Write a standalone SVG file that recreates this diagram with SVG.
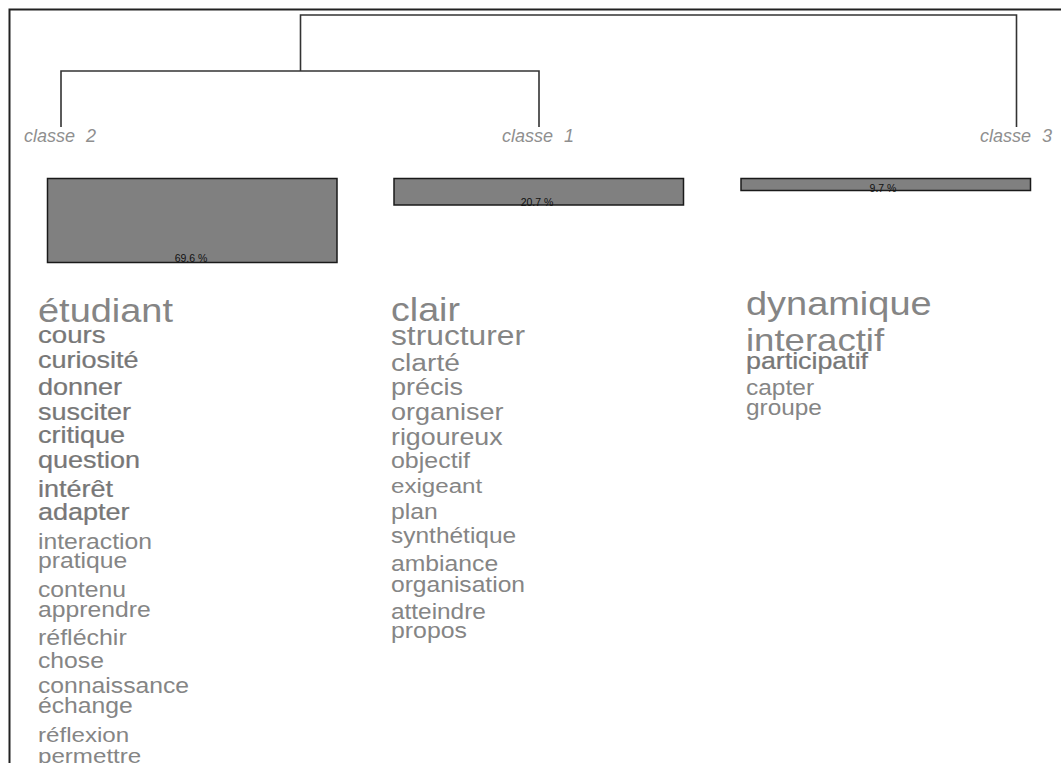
<svg xmlns="http://www.w3.org/2000/svg" width="1061" height="763" viewBox="0 0 1061 763">
<style>
.frame{fill:none;stroke:#222;stroke-width:2}
.den{fill:none;stroke:#333;stroke-width:1.6}
.bar{fill:#808080;stroke:#1a1a1a;stroke-width:1.5}
.lab{font-family:"Liberation Sans",Arial,sans-serif;font-style:italic;font-size:18px;fill:#8f8f8f;word-spacing:6px}
.pct{font-family:"Liberation Sans",Arial,sans-serif;font-size:10.5px;fill:#111;text-anchor:middle}
.w{font-family:"Liberation Sans",Arial,sans-serif;fill:#858585}
.h{stroke:#777;stroke-width:0.25;fill:#777}
</style>
<rect x="0" y="0" width="1061" height="763" fill="#fff"/>
<path class="frame" d="M9.5,763 V9.5 H1061"/>
<g id="connectors">
<path class="den" d="M300.5,71 V15 H1016.5 V127"/>
<path class="den" d="M61,127 V71 H539 V127"/>
</g>
<g id="classe2">
<text class="lab" x="24" y="142">classe 2</text>
<rect class="bar" x="47.5" y="178.5" width="289.5" height="84"/>
<text class="pct" x="191" y="262">69.6 %</text>
<g class="w" transform="translate(38,0) scale(1.15,1)">
<text x="0" y="322" font-size="33">étudiant</text>
<text class="h" x="0" y="343" font-size="24">cours</text>
<text class="h" x="0" y="368" font-size="23.5">curiosité</text>
<text class="h" x="0" y="395" font-size="23.5">donner</text>
<text class="h" x="0" y="420" font-size="23.5">susciter</text>
<text class="h" x="0" y="443" font-size="23.5">critique</text>
<text class="h" x="0" y="468" font-size="23.5">question</text>
<text class="h" x="0" y="497" font-size="23.5">intérêt</text>
<text class="h" x="0" y="520" font-size="23.5">adapter</text>
<text x="0" y="549" font-size="21.5">interaction</text>
<text x="0" y="568" font-size="21.5">pratique</text>
<text x="0" y="597" font-size="21.5">contenu</text>
<text x="0" y="617" font-size="21.5">apprendre</text>
<text x="0" y="645" font-size="21.7">réfléchir</text>
<text x="0" y="668" font-size="21.5">chose</text>
<text x="0" y="693" font-size="21.5">connaissance</text>
<text x="0" y="713" font-size="21.5">échange</text>
<text x="0" y="742" font-size="21">réflexion</text>
<text x="0" y="763" font-size="21">permettre</text>
</g>
</g>
<g id="classe1">
<text class="lab" x="502" y="142">classe 1</text>
<rect class="bar" x="394" y="178.5" width="289.5" height="26.5"/>
<text class="pct" x="537" y="206">20.7 %</text>
<g class="w" transform="translate(391,0) scale(1.15,1)">
<text x="0" y="321" font-size="32.7">clair</text>
<text x="0" y="345" font-size="27.6">structurer</text>
<text x="0" y="371" font-size="24.5">clarté</text>
<text x="0" y="395" font-size="23.5">précis</text>
<text x="0" y="420" font-size="23.5">organiser</text>
<text x="0" y="445" font-size="23.3">rigoureux</text>
<text x="0" y="468" font-size="21.7">objectif</text>
<text x="0" y="493" font-size="21">exigeant</text>
<text x="0" y="519" font-size="21.5">plan</text>
<text x="0" y="543" font-size="21.3">synthétique</text>
<text x="0" y="571" font-size="21.5">ambiance</text>
<text x="0" y="592" font-size="21.4">organisation</text>
<text x="0" y="619" font-size="21.2">atteindre</text>
<text x="0" y="638" font-size="21.6">propos</text>
</g>
</g>
<g id="classe3">
<text class="lab" x="980" y="142">classe 3</text>
<rect class="bar" x="741" y="178.5" width="289.5" height="12"/>
<text class="pct" x="883" y="192">9.7 %</text>
<g class="w" transform="translate(746,0) scale(1.15,1)">
<text x="0" y="315" font-size="33">dynamique</text>
<text x="0" y="351" font-size="31.8">interactif</text>
<text class="h" x="0" y="369" font-size="23.3">participatif</text>
<text x="0" y="395" font-size="21.3">capter</text>
<text x="0" y="415" font-size="21.2">groupe</text>
</g>
</g>
</svg>
